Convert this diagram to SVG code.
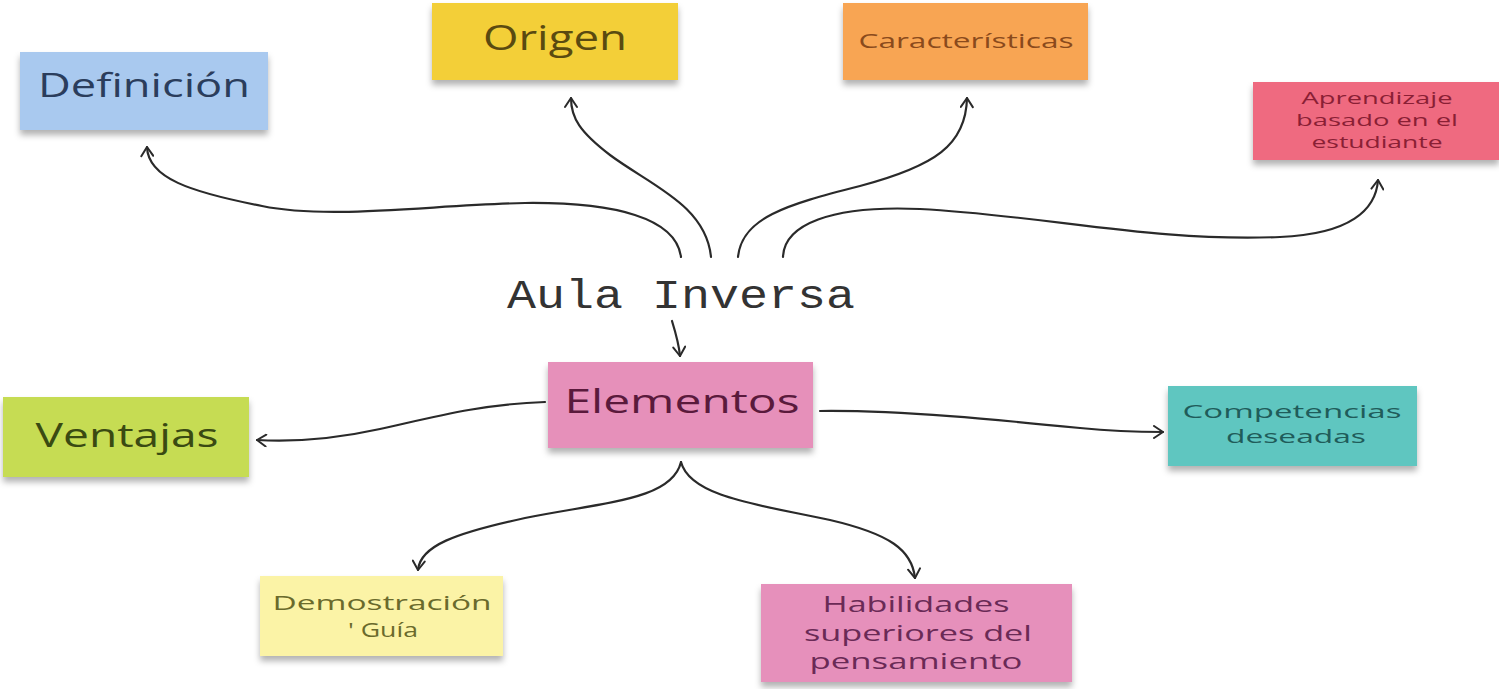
<svg xmlns="http://www.w3.org/2000/svg" width="1499" height="689" viewBox="0 0 1499 689">
<style>
.note{filter:url(#sh);}
.t{font-family:"Open Sans","DejaVu Sans",sans-serif;text-anchor:middle;}
.c{fill:none;stroke:#2a2a2a;stroke-width:2.2;stroke-linecap:round;marker-end:url(#ah);}
</style>
<defs>
<filter id="sh" x="-10%" y="-10%" width="120%" height="140%">
<feDropShadow dx="0" dy="5" stdDeviation="3" flood-color="#000" flood-opacity="0.3"/>
</filter>
<marker id="ah" viewBox="0 0 14 14" refX="12" refY="7" markerWidth="14" markerHeight="14" markerUnits="userSpaceOnUse" orient="auto">
<path d="M3,1 L12,7 L3,13" fill="none" stroke="#2a2a2a" stroke-width="2" stroke-linecap="round" stroke-linejoin="round"/>
</marker>
</defs>
<rect width="1499" height="689" fill="#ffffff"/>
<g id="connectors">
<path class="c" d="M681,257 C676,218 615,202 525,203 C430,205 330,220 262,206 C190,192 148,178 147,147"/>
<path class="c" d="M711,257 C706,205 650,185 610,155 C580,132 571,118 571,98"/>
<path class="c" d="M738,257 C742,218 785,205 860,186 C935,166 966,145 967,98"/>
<path class="c" d="M783,257 C784,225 830,205 920,209 C1050,216 1150,242 1280,237 C1350,234 1376,210 1378,180"/>
<path class="c" d="M672,321 C676,334 679,344 680,356"/>
<path class="c" d="M545,402 C480,404 430,418 380,429 C330,440 292,442 257,440"/>
<path class="c" d="M820,411 C900,410 1000,420 1080,428 C1120,432 1140,432 1163,432"/>
<path class="c" d="M681,462 C672,500 605,502 525,518 C455,533 420,546 418,570"/>
<path class="c" d="M681,462 C690,497 760,505 830,520 C890,534 912,550 915,578"/>
</g>
<g id="definicion">
<rect class="note" x="20" y="52" width="248" height="78" fill="#a9c9ef"/>
<text class="t" x="144" y="97" font-size="32" fill="#2b3d5c" textLength="212" lengthAdjust="spacingAndGlyphs">Definición</text>
</g>
<g id="origen">
<rect class="note" x="432" y="3" width="246" height="77" fill="#f3cf37"/>
<text class="t" x="555" y="50" font-size="34" fill="#5a4a10" textLength="144" lengthAdjust="spacingAndGlyphs">Origen</text>
</g>
<g id="caracteristicas">
<rect class="note" x="843" y="3" width="245" height="77" fill="#f8a553"/>
<text class="t" x="966" y="48" font-size="20" fill="#8a4a1c" textLength="215" lengthAdjust="spacingAndGlyphs">Características</text>
</g>
<g id="aprendizaje">
<rect class="note" x="1253" y="82" width="246" height="78" fill="#ef6b80"/>
<text class="t" x="1377" y="104" font-size="17" fill="#8a1f35" textLength="151" lengthAdjust="spacingAndGlyphs">Aprendizaje</text>
<text class="t" x="1377" y="126" font-size="17" fill="#8a1f35" textLength="162" lengthAdjust="spacingAndGlyphs">basado en el</text>
<text class="t" x="1377" y="148" font-size="17" fill="#8a1f35" textLength="131" lengthAdjust="spacingAndGlyphs">estudiante</text>
</g>
<g id="aula">
<text x="681" y="308" font-family="'Liberation Mono','DejaVu Sans Mono',monospace" font-size="40" fill="#333333" text-anchor="middle" textLength="348" lengthAdjust="spacingAndGlyphs">Aula Inversa</text>
</g>
<g id="elementos">
<rect class="note" x="548" y="362" width="265" height="86" fill="#e690ba"/>
<text class="t" x="682" y="413" font-size="33" fill="#5a1a3c" textLength="235" lengthAdjust="spacingAndGlyphs">Elementos</text>
</g>
<g id="ventajas">
<rect class="note" x="3" y="397" width="246" height="80" fill="#c6dc52"/>
<text class="t" x="127" y="447" font-size="32" fill="#3a4a12" textLength="183" lengthAdjust="spacingAndGlyphs">Ventajas</text>
</g>
<g id="competencias">
<rect class="note" x="1168" y="386" width="249" height="80" fill="#5ec6c0"/>
<text class="t" x="1292" y="418" font-size="19" fill="#1f5c5a" textLength="219" lengthAdjust="spacingAndGlyphs">Competencias</text>
<text class="t" x="1296" y="443" font-size="19" fill="#1f5c5a" textLength="140" lengthAdjust="spacingAndGlyphs">deseadas</text>
</g>
<g id="demostracion">
<rect class="note" x="260" y="576" width="243" height="80" fill="#fbf3a6"/>
<text class="t" x="382" y="610" font-size="20" fill="#6a6a2c" textLength="219" lengthAdjust="spacingAndGlyphs">Demostración</text>
<text class="t" x="383" y="637" font-size="20" fill="#6a6a2c" textLength="70" lengthAdjust="spacingAndGlyphs">' Guía</text>
</g>
<g id="habilidades">
<rect class="note" x="761" y="584" width="311" height="98" fill="#e690bb"/>
<text class="t" x="916" y="612" font-size="22" fill="#6a2a56" textLength="187" lengthAdjust="spacingAndGlyphs">Habilidades</text>
<text class="t" x="918" y="641" font-size="22" fill="#6a2a56" textLength="228" lengthAdjust="spacingAndGlyphs">superiores del</text>
<text class="t" x="916" y="669" font-size="22" fill="#6a2a56" textLength="213" lengthAdjust="spacingAndGlyphs">pensamiento</text>
</g>
</svg>
